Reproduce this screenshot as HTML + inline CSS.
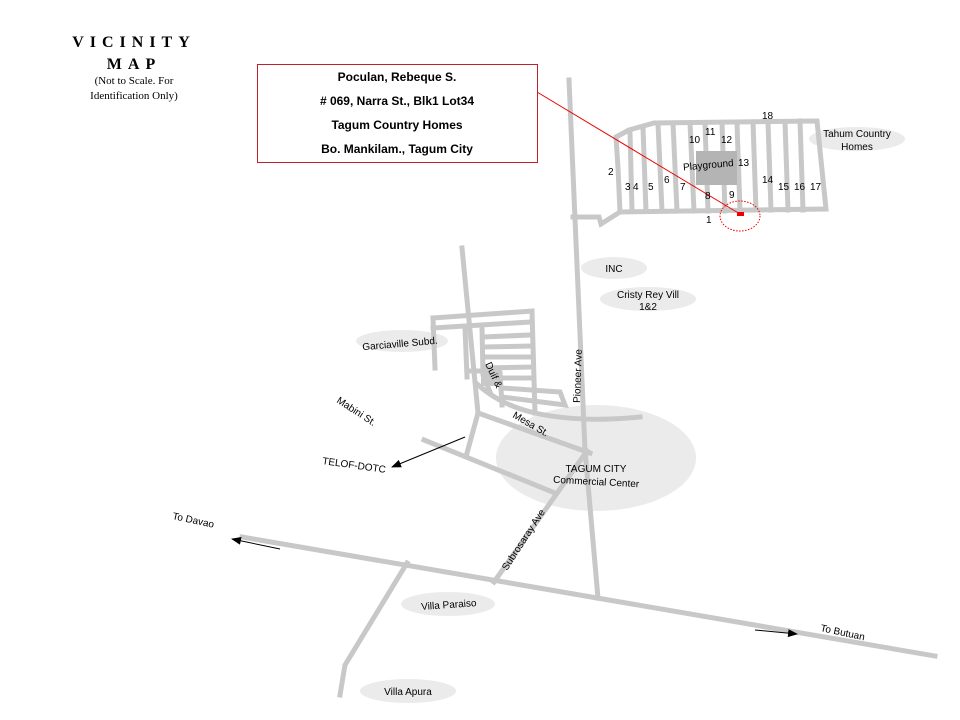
<!DOCTYPE html>
<html><head><meta charset="utf-8"><style>
html,body{margin:0;padding:0;background:#fff;}
svg{display:block;}
text{font-family:"Liberation Sans",Arial,sans-serif;font-size:10px;fill:#000;}
.r{stroke:#c8c8c8;stroke-width:5;fill:none;stroke-linecap:square;}
.e{fill:#ebebeb;}
.s{font-family:"Liberation Serif",serif;}
.b{font-weight:bold;font-size:12px;}
</style></head><body>
<svg width="960" height="720" viewBox="0 0 960 720" xmlns="http://www.w3.org/2000/svg">
<defs><marker id="a" markerWidth="10" markerHeight="8" refX="9" refY="4" orient="auto" markerUnits="userSpaceOnUse"><path d="M0,0 L10,4 L0,8 z" fill="#000"/></marker></defs>

<!-- label ellipses -->
<ellipse class="e" cx="596" cy="458" rx="100" ry="53" fill="#e6e6e6"/>
<ellipse class="e" cx="614" cy="268" rx="33" ry="11"/>
<ellipse class="e" cx="648" cy="299" rx="48" ry="12"/>
<ellipse class="e" cx="402" cy="341" rx="46" ry="11"/>
<ellipse class="e" cx="857" cy="139" rx="48" ry="12"/>
<ellipse class="e" cx="448" cy="604" rx="47" ry="12"/>
<ellipse class="e" cx="408" cy="691" rx="48" ry="12"/>

<!-- main roads -->
<line class="r" x1="242" y1="537" x2="935" y2="656" stroke-width="7"/>
<polyline class="r" points="569,80 585,450 598,598"/>
<polyline class="r" points="573,217 599,217 601,224 620,212"/>
<polyline class="r" points="407,563 345,665 340,695"/>
<polyline class="r" points="494,582 587,451"/>

<!-- subdivision -->
<polyline class="r" points="620,212 826,209 817,121 654,123 629,130 616,137 618,168 620,212"/>
<g class="r">
<line x1="630" y1="132" x2="632" y2="211"/>
<line x1="643" y1="128" x2="646" y2="211"/>
<line x1="658" y1="124" x2="662" y2="211"/>
<line x1="673" y1="123" x2="677" y2="211"/>
<line x1="690" y1="123" x2="694" y2="211"/>
<line x1="705" y1="123" x2="708" y2="211"/>
<line x1="722" y1="123" x2="725" y2="211"/>
<line x1="737" y1="123" x2="740" y2="211"/>
<line x1="753" y1="122" x2="756" y2="210"/>
<line x1="768" y1="122" x2="771" y2="210"/>
<line x1="785" y1="122" x2="788" y2="210"/>
<line x1="800" y1="121" x2="803" y2="210"/>
</g>
<rect x="696" y="151" width="41" height="34" fill="#b4b4b4"/>

<!-- middle area -->
<g class="r">
<polyline points="462,248 478,413 467,453"/>
<polyline points="478,413 590,453"/>
<polyline points="424,440 555,493"/>
<polyline points="433,318 532,311 535,413"/>
<polyline points="433,318 435,368"/>
<line x1="433" y1="328" x2="530" y2="322"/>
<line x1="465" y1="328" x2="467" y2="377"/>
<polyline points="482,328 483,375 490,392"/>
<line x1="483" y1="337" x2="530" y2="335"/>
<line x1="483" y1="347" x2="530" y2="346"/>
<line x1="483" y1="357" x2="530" y2="357"/>
<line x1="483" y1="368" x2="530" y2="367"/>
<line x1="488" y1="378" x2="530" y2="378"/>
<line x1="470" y1="371" x2="498" y2="371"/>
<line x1="500" y1="373" x2="502" y2="405"/>
<polyline points="502,388 560,392 565,405 502,397"/>
<path d="M477,384 Q500,405 535,413 Q580,423 640,417"/>
</g>
<rect x="481" y="368" width="20" height="18" fill="#c8c8c8"/>

<!-- red marker -->
<line x1="537" y1="92" x2="740" y2="214" stroke="#e00" stroke-width="1"/>
<rect x="737" y="212" width="7" height="4" fill="#e00"/>
<ellipse cx="740" cy="216" rx="20" ry="15" fill="none" stroke="#e00" stroke-width="1" stroke-dasharray="1.5,1.5"/>

<!-- arrows -->
<line x1="465" y1="437" x2="392" y2="467" stroke="#000" stroke-width="1" marker-end="url(#a)"/>
<line x1="280" y1="549" x2="232" y2="539" stroke="#000" stroke-width="1" marker-end="url(#a)"/>
<line x1="755" y1="630" x2="797" y2="634" stroke="#000" stroke-width="1" marker-end="url(#a)"/>

<!-- box -->
<rect x="257.5" y="64.5" width="280" height="98" fill="#fff" stroke="#c0202a" stroke-width="1"/>
<text class="b" x="397" y="81" text-anchor="middle">Poculan, Rebeque S.</text>
<text class="b" x="397" y="105" text-anchor="middle"># 069, Narra  St., Blk1 Lot34</text>
<text class="b" x="397" y="129" text-anchor="middle">Tagum Country Homes</text>
<text class="b" x="397" y="153" text-anchor="middle">Bo. Mankilam., Tagum City</text>

<!-- title -->
<text class="s" x="134" y="47" text-anchor="middle" style="font-size:16px;font-weight:bold;letter-spacing:6px">VICINITY</text>
<text class="s" x="134" y="69" text-anchor="middle" style="font-size:16px;font-weight:bold;letter-spacing:6px">MAP</text>
<text class="s" x="134" y="84" text-anchor="middle" style="font-size:11px">(Not to Scale. For</text>
<text class="s" x="134" y="99" text-anchor="middle" style="font-size:11px">Identification Only)</text>

<!-- subdivision numbers -->
<g>
<text x="762" y="119">18</text>
<text x="705" y="135">11</text>
<text x="689" y="143">10</text>
<text x="721" y="143">12</text>
<text x="683" y="169" transform="rotate(-5 700 165)">Playground</text>
<text x="738" y="166">13</text>
<text x="608" y="175">2</text>
<text x="625" y="190">3</text>
<text x="633" y="190">4</text>
<text x="648" y="190">5</text>
<text x="664" y="183">6</text>
<text x="680" y="190">7</text>
<text x="705" y="199">8</text>
<text x="729" y="198">9</text>
<text x="706" y="223">1</text>
<text x="762" y="183">14</text>
<text x="778" y="190">15</text>
<text x="794" y="190">16</text>
<text x="810" y="190">17</text>
<text x="857" y="137" text-anchor="middle">Tahum Country</text>
<text x="857" y="150" text-anchor="middle">Homes</text>
</g>

<text x="614" y="272" text-anchor="middle">INC</text>
<text x="648" y="298" text-anchor="middle">Cristy Rey Vill</text>
<text x="648" y="310" text-anchor="middle">1&amp;2</text>
<text x="400" y="347" text-anchor="middle" transform="rotate(-5 400 344)">Garciaville Subd.</text>
<text x="580" y="403" transform="rotate(-88 580 403)">Pioneer Ave</text>
<text x="485" y="364" transform="rotate(65 485 364)">Duif &amp;</text>
<text x="336" y="402" transform="rotate(33 336 402)">Mabini St.</text>
<text x="512" y="417" transform="rotate(30 512 417)">Mesa St.</text>
<text x="322" y="464" transform="rotate(8 322 464)">TELOF-DOTC</text>
<text x="596" y="472" text-anchor="middle">TAGUM CITY</text>
<text x="596" y="485" text-anchor="middle" transform="rotate(3 596 485)">Commercial Center</text>
<text x="172" y="519" transform="rotate(12 172 519)">To Davao</text>
<text x="507" y="571" transform="rotate(-57 507 571)">Subrosaray Ave</text>
<text x="449" y="608" text-anchor="middle" transform="rotate(-4 449 608)">Villa Paraiso</text>
<text x="408" y="695" text-anchor="middle">Villa Apura</text>
<text x="820" y="631" transform="rotate(12 820 631)">To Butuan</text>
</svg>
</body></html>
